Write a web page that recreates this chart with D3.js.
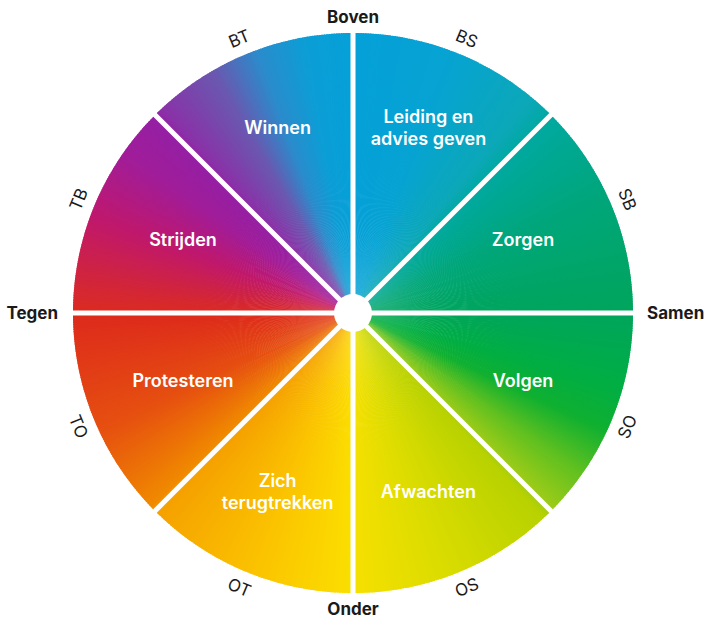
<!DOCTYPE html>
<html>
<head>
<meta charset="utf-8">
<script src="https://cdn.jsdelivr.net/npm/d3@7"></script>
<style>
  body { margin: 0; background: #fff; }
  text { font-family: Inter, "Noto Sans", sans-serif; }
</style>
</head>
<body>
<div id="chart"></div>
<script>
// segment labels, clockwise from the top
const segmentLabels = [
  ["Leiding en", "advies geven"],
  ["Zorgen"],
  ["Volgen"],
  ["Afwachten"],
  ["Zich", "terugtrekken"],
  ["Protesteren"],
  ["Strijden"],
  ["Winnen"],
];
// axis names: top, right, bottom, left
const axisLabels = ["Boven", "Samen", "Onder", "Tegen"];
// small labels on the rim, in the middle of each segment
const rimLabels = ["BS", "SB", "SO", "OS", "OT", "TO", "TB", "BT"];

// colour of the wheel by angle (degrees clockwise from the top)
const stopAngles = [0, 20, 40, 45, 65, 90, 105, 115, 125, 135, 137, 160, 180, 182, 200, 225, 226, 245, 270, 272, 290, 305, 315, 317, 330, 340, 350, 360];
const stopColors = [
  "#05a0d8", "#06a3d3", "#0ca8b8", "#00a9a0", "#00a67a", "#00a55c", "#00ae44", "#10b030",
  "#60c020", "#a0cc18", "#b8d200", "#dadc00", "#f6e000", "#fbdc00", "#fbc400", "#f5a000",
  "#f08a00", "#e65010", "#dd2a1c", "#d82a28", "#c0186c", "#a01d9a", "#9420a4", "#8a32a8",
  "#6a58b0", "#2a8ccc", "#0c9ed6", "#05a0d8",
];

const width = 707;
const height = 620;
const cx = 353;
const cy = 313;
const R = 280;
const rad = Math.PI / 180;

const svg = d3.select("#chart")
  .append("svg")
  .attr("width", width)
  .attr("height", height);

const g = svg.append("g").attr("transform", `translate(${cx},${cy})`);

const color = d3.scaleLinear()
  .domain(stopAngles)
  .range(stopColors)
  .interpolate(d3.interpolateRgb);

// conic gradient as thin wedges
const step = 0.5;
const wedges = d3.range(0, 360, step);
const arc = d3.arc().innerRadius(0).outerRadius(R);

g.append("g")
  .selectAll("path")
  .data(wedges)
  .join("path")
  .attr("d", (a) => arc({ startAngle: a * rad, endAngle: (a + step + 0.3) * rad }))
  .attr("fill", (a) => color(a + step / 2));

// white separators
const sep = d3.range(8).map((i) => i * 45);
g.append("g")
  .selectAll("line")
  .data(sep)
  .join("line")
  .attr("x1", 0)
  .attr("y1", 0)
  .attr("x2", (a) => Math.sin(a * rad) * (R + 2))
  .attr("y2", (a) => -Math.cos(a * rad) * (R + 2))
  .attr("stroke", "#fff")
  .attr("stroke-width", 5);

g.append("circle").attr("r", 19).attr("fill", "#fff");

// segment labels
const lineH = 22;
g.append("g")
  .selectAll("text")
  .data(segmentLabels)
  .join("text")
  .attr("text-anchor", "middle")
  .attr("fill", "#fff")
  .attr("font-weight", 600)
  .attr("font-size", 18)
  .each(function (lines, i) {
    const mid = (22.5 + i * 45) * rad;
    const r = Math.abs(Math.cos(mid)) > 0.5 ? 197 : 184;
    const x = Math.sin(mid) * r;
    const y = -Math.cos(mid) * r;
    const t = d3.select(this);
    lines.forEach((line, j) => {
      t.append("tspan")
        .attr("x", x)
        .attr("y", y + (j - (lines.length - 1) / 2) * lineH)
        .attr("dy", "0.18em")
        .text(line);
    });
  });

// rim labels, turned along the circle, kept readable on the lower half
const rimR = 297;
g.append("g")
  .selectAll("text")
  .data(rimLabels)
  .join("text")
  .attr("text-anchor", "middle")
  .attr("dy", "0.35em")
  .attr("font-size", 17)
  .attr("fill", "#1a1a1a")
  .attr("transform", (d, i) => {
    const a = 22.5 + i * 45;
    const x = Math.sin(a * rad) * rimR;
    const y = -Math.cos(a * rad) * rimR;
    const rot = a > 90 && a < 270 ? a - 180 : a;
    return `translate(${x},${y}) rotate(${rot})`;
  })
  .text((d) => d);

// axis names
const axisPos = [
  { x: 0, y: -R - 16, anchor: "middle" },
  { x: R + 14, y: 0, anchor: "start" },
  { x: 0, y: R + 16, anchor: "middle" },
  { x: -R - 15, y: 0, anchor: "end" },
];
g.append("g")
  .selectAll("text")
  .data(axisLabels)
  .join("text")
  .attr("x", (d, i) => axisPos[i].x)
  .attr("y", (d, i) => axisPos[i].y)
  .attr("dy", "0.35em")
  .attr("text-anchor", (d, i) => axisPos[i].anchor)
  .attr("font-weight", 700)
  .attr("font-size", 17)
  .attr("fill", "#1a1a1a")
  .text((d) => d);
</script>
</body>
</html>
